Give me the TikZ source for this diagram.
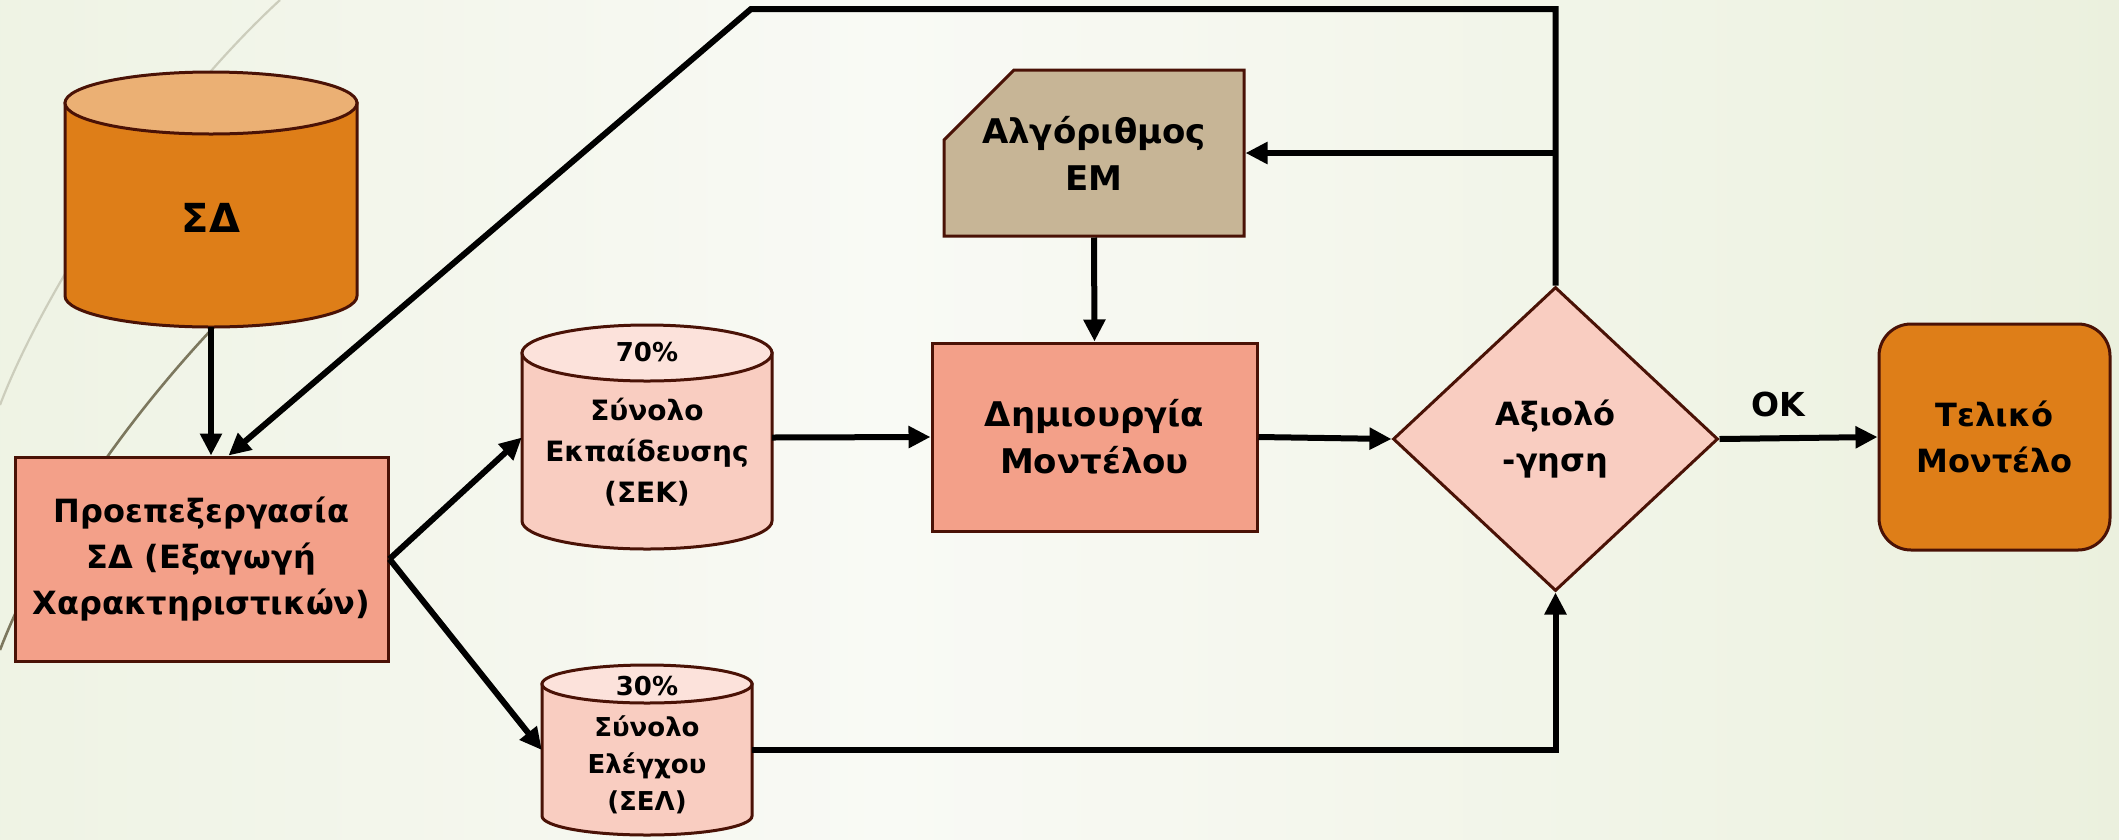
\documentclass[tikz,border=0pt]{standalone}
\usepackage{fontspec}
\setmainfont{DejaVu Sans}
\usetikzlibrary{arrows.meta,shapes.geometric,shapes.misc,calc}

\definecolor{bgL}{RGB}{226,234,208}
\definecolor{bgM}{RGB}{249,250,245}
\definecolor{bgR}{RGB}{223,232,202}
\definecolor{edge}{RGB}{74,18,6}
\definecolor{orangebody}{RGB}{222,126,24}
\definecolor{orangetop}{RGB}{235,176,116}
\definecolor{salmon}{RGB}{243,160,137}
\definecolor{pinkbody}{RGB}{249,205,193}
\definecolor{pinktop}{RGB}{252,226,219}
\definecolor{tan}{RGB}{199,181,150}
\definecolor{arcgrey}{RGB}{204,205,188}
\definecolor{arcolive}{RGB}{124,119,94}

\pgfdeclarehorizontalshading{bgshade}{100bp}{color(0bp)=(bgL); color(46bp)=(bgM); color(100bp)=(bgR)}

\tikzset{
  outline/.style={draw=edge, line width=3pt},
  big/.style={font=\bfseries\fontsize{32}{46}\selectfont, align=center},
  bigger/.style={font=\bfseries\fontsize{34}{47}\selectfont, align=center},
  mid/.style={font=\bfseries\fontsize{28}{41}\selectfont, align=center},
  small/.style={font=\bfseries\fontsize{26}{37}\selectfont, align=center},
  anchorbox/.style={inner sep=0pt, draw=none, fill=none},
  arr/.style={line width=6pt, -{Triangle[length=22pt,width=21pt]}, line join=miter}
}

\begin{document}
\begin{tikzpicture}[x=1pt, y=-1pt]
\useasboundingbox (0,0) rectangle (2119,839);
\path[shading=bgshade] (0,0) rectangle (2119,839);

% decorative arcs at the left edge
\draw[arcgrey, line width=2.2pt] (280,0) .. controls (150,120) and (40,300) .. (0,405);
\draw[arcolive, line width=2.6pt] (240,300) .. controls (150,390) and (50,520) .. (0,650);

% ---- data store cylinder (SD)
\node[anchorbox, minimum width=292pt, minimum height=255pt] (sd) at (211,199.5) {};
\filldraw[outline, fill=orangebody] (65,103) -- (65,296)
   arc[start angle=180, end angle=360, x radius=146pt, y radius=31pt] -- (357,103) -- cycle;
\filldraw[outline, fill=orangetop] (211,103) ellipse[x radius=146pt, y radius=31pt];
\node[font=\bfseries\fontsize{40}{46}\selectfont] (sdtext) at (211,218) {ΣΔ};

% ---- preprocessing
\node[outline, fill=salmon, minimum width=373pt, minimum height=204pt, inner sep=0pt, big]
  (pre) at (201.5,559) {Προεπεξεργασία\\ΣΔ (Εξαγωγή\\Χαρακτηριστικών)};

% ---- training set cylinder
\node[anchorbox, minimum width=250pt, minimum height=225pt] (sek) at (647,437.5) {};
\filldraw[outline, fill=pinkbody] (522,353) -- (522,521)
   arc[start angle=180, end angle=360, x radius=125pt, y radius=28pt] -- (772,353) -- cycle;
\filldraw[outline, fill=pinktop] (647,353) ellipse[x radius=125pt, y radius=28pt];
\node[small] (sekpct) at (647,352) {70\%};
\node[mid] (sektext) at (647,452) {Σύνολο\\Εκπαίδευσης\\(ΣΕΚ)};

% ---- test set cylinder
\node[anchorbox, minimum width=210pt, minimum height=170pt] (sel) at (647,750) {};
\filldraw[outline, fill=pinkbody] (542,684) -- (542,816)
   arc[start angle=180, end angle=360, x radius=105pt, y radius=19pt] -- (752,684) -- cycle;
\filldraw[outline, fill=pinktop] (647,684) ellipse[x radius=105pt, y radius=19pt];
\node[small] (selpct) at (647,686) {30\%};
\node[small] (seltext) at (647,765) {Σύνολο\\Ελέγχου\\(ΣΕΛ)};

% ---- algorithm
\node[outline, fill=tan, chamfered rectangle, chamfered rectangle corners=north west,
      chamfered rectangle xsep=62pt, chamfered rectangle ysep=33pt,
      minimum width=300pt, minimum height=166pt, inner sep=0pt, bigger]
  (alg) at (1094,153) {Αλγόριθμος\\ΕΜ};

% ---- model creation
\node[outline, fill=salmon, minimum width=325pt, minimum height=188pt, inner sep=0pt, bigger]
  (model) at (1094.5,437) {Δημιουργία\\Μοντέλου};

% ---- evaluation
\node[outline, fill=pinkbody, diamond, minimum width=325pt, minimum height=304pt,
      inner sep=0pt, big] (eval) at (1555.5,439) {Αξιολό\\-γηση};

% ---- final model
\node[outline, fill=orangebody, rounded corners=32pt, minimum width=231pt,
      minimum height=226pt, inner sep=0pt, big] (final) at (1994.5,437) {Τελικό\\Μοντέλο};

% ---- connectors
\coordinate (fbcorner) at (751,9);
\coordinate (prein) at ($(pre.north west)+(215,0)$);
\draw[arr] (sd.south) -- (sd.south |- pre.north);
\draw[arr] (eval.north) -- (eval.north |- fbcorner) -- (fbcorner) -- (prein);
\draw[arr] (eval.north |- alg.east) -- (alg.east);
\draw[arr] (pre.east) -- (sek.west);
\draw[arr] (pre.east) -- (sel.west);
\draw[arr] (sek.east) -- (model.west);
\draw[arr] (alg.south) -- (model.north);
\draw[arr] (model.east) -- (eval.west);
\draw[arr] (sel.east) -- (eval.south |- sel.east) -- (eval.south);
\draw[arr] (eval.east) -- (final.west);
\node[font=\bfseries\fontsize{33}{40}\selectfont] (oklabel) at (1778,404) {OK};
\end{tikzpicture}
\end{document}
